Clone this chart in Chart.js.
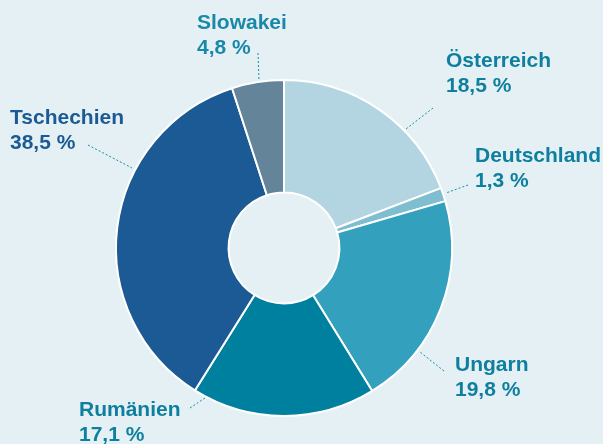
<!DOCTYPE html>
<html>
<head>
<meta charset="utf-8">
<script src="https://cdn.jsdelivr.net/npm/chart.js@4/dist/chart.umd.min.js"></script>
<style>
  html,body{margin:0;padding:0;background:#e5f0f5;}
  #wrap{position:relative;width:603px;height:444px;}
</style>
</head>
<body>
<div id="wrap"><canvas id="c" width="603" height="444"></canvas></div>
<script>
// Länder im Uhrzeigersinn ab 12 Uhr
const laender = ["Österreich","Deutschland","Ungarn","Rumänien","Tschechien","Slowakei"];
// gedruckte Anteile (Beschriftung)
const anteile = [18.5, 1.3, 19.8, 17.1, 38.5, 4.8];
// Sektorgrößen wie in der Vorlage gezeichnet (weichen leicht von der Beschriftung ab)
const sektoren = [19.2, 1.3, 20.7, 17.7, 36.1, 5.0];
const farben  = ["#b2d5e1","#7fbdd0","#33a0bd","#00809f","#1b5a94","#648499"];
const textFarben = ["#0e7f9e","#0e7f9e","#0e7f9e","#0e7f9e","#1b5a94","#1a88a8"];

// Beschriftungen: Textposition (links, erste Grundlinie) + Führungslinie (außen -> Ring)
const labelLayout = [
  {x:446, y:67,  line:[433,108, 406,129]},
  {x:475, y:162, line:[468,185, 446,193]},
  {x:455, y:371, line:[444,371, 420,352]},
  {x:79,  y:416, line:[190,408, 205,398]},
  {x:10,  y:124, line:[88,145, 132,168]},
  {x:197, y:29,  line:[258,53, 259,80]},
];

const fmt = v => v.toFixed(1).replace(".", ",") + " %";

const labelPlugin = {
  id:"labels",
  afterDraw(chart){
    const ctx = chart.ctx;
    ctx.save();
    labelLayout.forEach((l,i)=>{
      ctx.strokeStyle = "#1a8aa8";
      ctx.lineWidth = 1;
      ctx.setLineDash([2,2]);
      ctx.beginPath();
      ctx.moveTo(l.line[0], l.line[1]);
      ctx.lineTo(l.line[2], l.line[3]);
      ctx.stroke();
      ctx.setLineDash([]);
      ctx.fillStyle = textFarben[i];
      ctx.font = "bold 21px 'Liberation Sans', Arial, sans-serif";
      ctx.textBaseline = "alphabetic";
      ctx.fillText(laender[i], l.x, l.y);
      ctx.fillText(fmt(anteile[i]), l.x, l.y + 25);
    });
    ctx.restore();
  }
};

new Chart(document.getElementById("c"), {
  type:"doughnut",
  data:{
    labels: laender,
    datasets:[{
      data: sektoren,
      backgroundColor: farben,
      borderColor:"#ffffff",
      borderWidth:2,
      hoverOffset:0
    }]
  },
  options:{
    responsive:false,
    animation:false,
    cutout:"33%",
    layout:{padding:{left:115, right:150, top:79, bottom:27}},
    plugins:{legend:{display:false}, tooltip:{enabled:false}}
  },
  plugins:[labelPlugin]
});
</script>
</body>
</html>
